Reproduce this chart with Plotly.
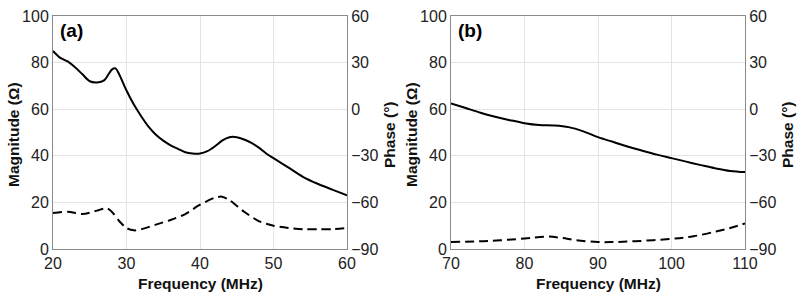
import plotly.graph_objects as go

# Panel (a)
freq_a = [20, 21, 22, 23, 24, 25, 26, 27, 28, 28.5, 29, 30, 31, 32, 33, 34, 35, 36, 37, 38, 39, 40,
          41, 42, 43, 44, 45, 46, 47, 48, 49, 50, 52, 54, 56, 58, 60]
mag_a = [85, 82, 80.5, 78, 75, 72, 71.5, 72.5, 77, 77.5, 75, 68, 62, 57, 52.5, 49, 46.5, 44.5, 43, 41.5, 41, 41,
         42, 44, 46.5, 48, 48, 47, 45.5, 43.5, 41, 39, 35, 31, 28, 25.5, 23]
freq_pa = [20, 22, 24, 26, 27.3, 28, 29, 30, 31, 32, 34, 36, 38, 40, 42, 43, 44, 46, 48, 50, 52, 54, 56, 58, 60]
phase_a = [-66.8, -66, -67.5, -65.3, -63.8, -66, -72, -76.5, -78, -77.3, -74.3, -71.3, -67.5, -61.5, -57, -56.3,
           -58.5, -66, -72, -75, -76.5, -77.3, -77.3, -77.3, -76.5]

# Panel (b)
freq_b = [70, 72, 74, 76, 78, 80, 82, 84, 86, 88, 90, 92, 94, 96, 98, 100, 102, 104, 106, 108, 110]
mag_b = [62.5, 60.5, 58.5, 56.8, 55.3, 54, 53.2, 53, 52.3, 50.5, 48, 46, 44, 42.2, 40.5, 39, 37.5, 36, 34.6, 33.5, 33]
freq_pb = [70, 75, 80, 83, 85, 87, 90, 92, 95, 100, 103, 106, 108, 110]
phase_b = [-85.5, -84.8, -83.3, -82, -82.8, -84.3, -85.5, -85.5, -85, -83.5, -81.8, -78.8, -76.5, -73.5]

x_ticks_a = [20, 30, 40, 50, 60]
x_ticks_b = [70, 80, 90, 100, 110]
mag_ticks = [0, 20, 40, 60, 80, 100]
phase_ticks = [-90, -60, -30, 0, 30, 60]

FONT = "Liberation Sans, Arial, sans-serif"
LINE = dict(color="black", width=2)
DASH = dict(color="black", width=2, dash="9px,5px")

fig = go.Figure()
fig.add_trace(go.Scatter(x=freq_a, y=mag_a, mode="lines", line=dict(shape="spline", smoothing=0.8, **LINE), xaxis="x", yaxis="y"))
fig.add_trace(go.Scatter(x=freq_pa, y=phase_a, mode="lines", line=dict(shape="spline", smoothing=0.8, **DASH), xaxis="x", yaxis="y2"))
fig.add_trace(go.Scatter(x=freq_b, y=mag_b, mode="lines", line=dict(shape="spline", **LINE), xaxis="x2", yaxis="y3"))
fig.add_trace(go.Scatter(x=freq_pb, y=phase_b, mode="lines", line=dict(shape="spline", **DASH), xaxis="x2", yaxis="y4"))

W, H = 799, 300
L, R, T, B = 53, 745, 16, 249
IW, IH = R - L, B - T

def xp(px):
    return (px - L) / IW

def yp(py):
    return (B - py) / IH

dom_a = [0, xp(347)]
dom_b = [xp(451), 1]
AX = "#8a8a8a"
GRID = "#e3e3e3"
tickfont = dict(family=FONT, size=16, color="#222")

def xax(dom, ticks, anchor):
    return dict(domain=dom, range=[ticks[0], ticks[-1]], tickvals=ticks, showgrid=True, gridcolor=GRID,
                showline=True, linecolor=AX, linewidth=1, mirror=True, ticks="", zeroline=False,
                tickfont=tickfont, anchor=anchor, automargin=False)

def ymag(anchor):
    return dict(domain=[0, 1], range=[0, 100], tickvals=mag_ticks, showgrid=True, gridcolor=GRID,
                showline=True, linecolor=AX, linewidth=1, ticks="", zeroline=False, tickfont=tickfont,
                anchor=anchor, automargin=False)

def yph(anchor, over):
    return dict(domain=[0, 1], range=[-90, 60], tickvals=phase_ticks, showgrid=False,
                showline=True, linecolor=AX, linewidth=1, ticks="", zeroline=False, tickfont=tickfont,
                anchor=anchor, overlaying=over, side="right", automargin=False)

fig.update_layout(
    width=W, height=H, margin=dict(l=L, r=W - R, t=T, b=H - B, autoexpand=False),
    paper_bgcolor="white", plot_bgcolor="white", showlegend=False,
    xaxis=xax(dom_a, x_ticks_a, "y"),
    xaxis2=xax(dom_b, x_ticks_b, "y3"),
    yaxis=ymag("x"),
    yaxis2=yph("x", "y"),
    yaxis3=ymag("x2"),
    yaxis4=yph("x2", "y3"),
)

title_font = dict(family=FONT, size=15.5, color="#111")
ann = []
for (x0, x1), lab in [((53, 347), "(a)"), ((451, 745), "(b)")]:
    cx = xp((x0 + x1) / 2)
    ann.append(dict(text="<b>Frequency (MHz)</b>", x=cx, y=yp(283), xref="paper", yref="paper",
                    showarrow=False, font=title_font, xanchor="center", yanchor="middle"))
    ann.append(dict(text="<b>Magnitude (Ω)</b>", x=xp(x0 - 40), y=yp(135), xref="paper", yref="paper",
                    showarrow=False, font=title_font, textangle=-90, xanchor="center", yanchor="middle"))
    ann.append(dict(text="<b>Phase (°)</b>", x=xp(x1 + 42), y=yp(135), xref="paper", yref="paper",
                    showarrow=False, font=title_font, textangle=-90, xanchor="center", yanchor="middle"))
    ann.append(dict(text="<b>" + lab + "</b>", x=xp(x0 + 5), y=yp(31), xref="paper", yref="paper",
                    showarrow=False, font=dict(family=FONT, size=19, color="black"), xanchor="left", yanchor="middle"))
fig.update_layout(annotations=ann)

fig.write_html("out.html", config={"displayModeBar": False},
               post_script="document.body.style.margin='0';document.body.style.overflow='hidden';")
